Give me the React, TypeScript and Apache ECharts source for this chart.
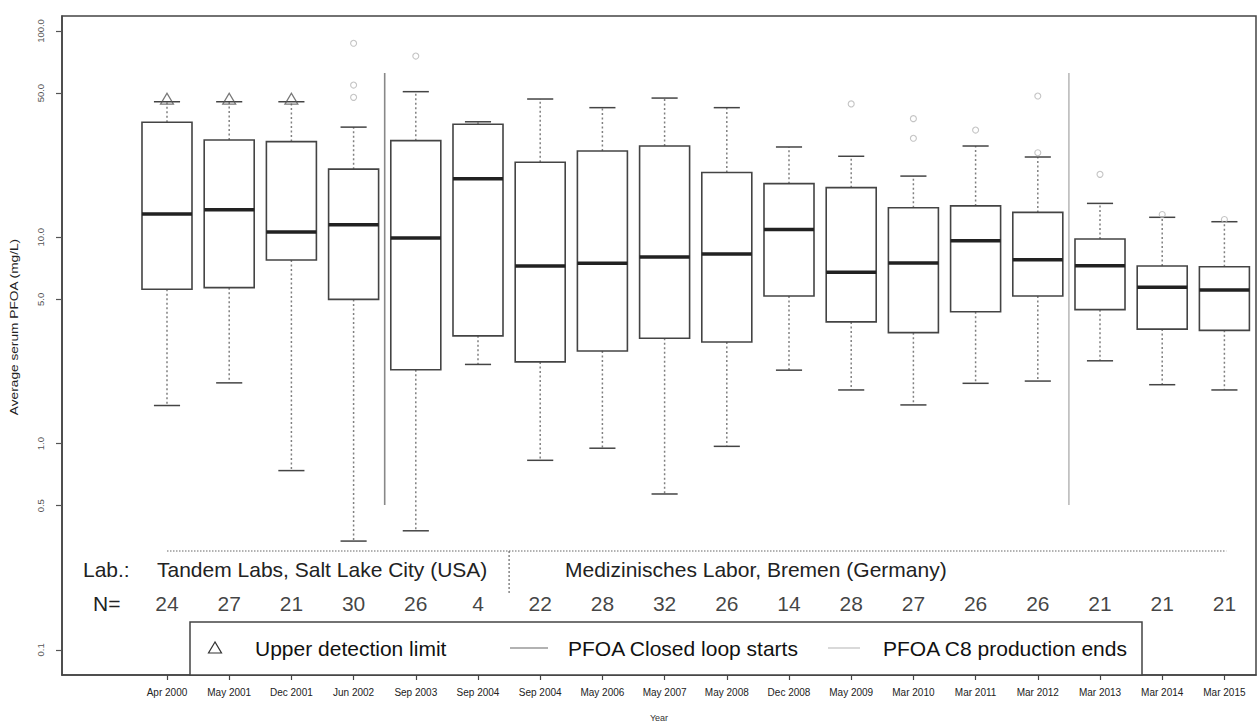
import React, { useEffect, useRef } from "react";
import * as echarts from "echarts";

const categories = ["Apr 2000", "May 2001", "Dec 2001", "Jun 2002", "Sep 2003", "Sep 2004", "Sep 2004", "May 2006", "May 2007", "May 2008", "Dec 2008", "May 2009", "Mar 2010", "Mar 2011", "Mar 2012", "Mar 2013", "Mar 2014", "Mar 2015"];
const nCounts = [24, 27, 21, 30, 26, 4, 22, 28, 32, 26, 14, 28, 27, 26, 26, 21, 21, 21];
const lowerWhisker = [1.53, 1.97, 0.74, 0.337, 0.378, 2.42, 0.83, 0.95, 0.57, 0.97, 2.27, 1.82, 1.54, 1.96, 2.01, 2.52, 1.93, 1.82];
const q1 = [5.6, 5.7, 7.76, 5.0, 2.28, 3.33, 2.49, 2.81, 3.24, 3.11, 5.19, 3.89, 3.45, 4.36, 5.19, 4.46, 3.59, 3.54];
const median = [12.97, 13.6, 10.6, 11.5, 9.92, 19.2, 7.26, 7.48, 8.03, 8.3, 10.9, 6.77, 7.51, 9.63, 7.79, 7.28, 5.72, 5.55];
const q3 = [36.1, 29.6, 29.1, 21.4, 29.4, 35.3, 23.1, 26.2, 27.7, 20.6, 18.2, 17.4, 13.9, 14.2, 13.2, 9.81, 7.26, 7.2];
const upperWhisker = [45.4, 45.4, 45.4, 34.2, 50.8, 36.3, 46.8, 42.5, 47.3, 42.5, 27.4, 24.7, 19.8, 27.7, 24.5, 14.6, 12.5, 11.9];
const outliers = [[3, 54.7], [3, 47.7], [3, 87.2], [4, 75.6], [11, 44.3], [12, 37.6], [12, 30.2], [13, 33.1], [14, 48.4], [14, 25.7], [15, 20.2], [16, 12.9], [17, 12.2]];
const detectionLimit = [[0, 47], [1, 47], [2, 47]];
const yTicks = [0.1, 0.5, 1, 5, 10, 50, 100];
const closedLoopLine = [[3.5, 0.504], [3.5, 62.6]];
const c8Line = [[14.5, 0.504], [14.5, 62.6]];
const labDivider = [[0, 0.3015], [17.03, 0.3015]];
const labSeparator = [[5.5, 0.3015], [5.5, 0.189]];
const nRowValue = 0.1688;
const labels = {
  lab: "Lab.:",
  n: "N=",
  usa: "Tandem Labs, Salt Lake City (USA)",
  de: "Medizinisches Labor, Bremen (Germany)",
  yName: "Average serum PFOA (mg/L)",
  xName: "Year",
  leg1: "Upper detection limit",
  leg2: "PFOA Closed loop starts",
  leg3: "PFOA C8 production ends",
};

const FONT = "'Liberation Sans', Arial, Helvetica, sans-serif";

export default function App() {
  const ref = useRef<HTMLDivElement>(null);
  useEffect(() => {
    if (!ref.current) return;
    const chart = echarts.init(ref.current, null, { renderer: "svg" });
    const boxData = categories.map((_, i) => [i, lowerWhisker[i], q1[i], median[i], q3[i], upperWhisker[i]]);
    const idx = categories.map((_, i) => i);

    const option: any = {
      animation: false,
      backgroundColor: "#fff",
      textStyle: { fontFamily: FONT },
      grid: { left: 62, top: 16, width: 1194, height: 659, show: true, borderColor: "#444", borderWidth: 1.5, containLabel: false, outerBoundsMode: "none" },
      xAxis: {
        type: "value",
        min: -1.688,
        max: 17.508,
        splitLine: { show: false },
        axisLine: { show: true, onZero: false, lineStyle: { color: "#444", width: 1.5 } },
        axisTick: { show: true, length: 5, customValues: idx, lineStyle: { color: "#444", width: 1.2 } },
        axisLabel: { customValues: idx, formatter: (v: number) => categories[Math.round(v)], fontSize: 10, color: "#222", margin: 12, fontFamily: FONT },
        name: labels.xName,
        nameLocation: "middle",
        nameGap: 38,
        nameTextStyle: { fontSize: 9, color: "#333", fontFamily: FONT },
      },
      yAxis: {
        type: "log",
        logBase: 10,
        min: 0.0756,
        max: 118.2,
        splitLine: { show: false },
        axisLine: { show: true, onZero: false, lineStyle: { color: "#444", width: 1.5 } },
        axisTick: { show: true, length: 6, customValues: yTicks, lineStyle: { color: "#555", width: 1.2 } },
        axisLabel: { customValues: yTicks, formatter: (v: number) => v.toFixed(1), rotate: 90, fontSize: 9.5, color: "#555", margin: 17, fontFamily: FONT },
      },
      graphic: [
        { type: "text", x: 15, y: 327, rotation: Math.PI / 2, scaleX: 1.37, style: { text: labels.yName, fontSize: 10, fontFamily: FONT, fill: "#222", textAlign: "center", textVerticalAlign: "middle", align: "center", verticalAlign: "middle" } },
        { type: "text", x: 83, y: 569, style: { text: labels.lab, fontSize: 21, fontFamily: FONT, fill: "#222", textAlign: "left", textVerticalAlign: "middle", align: "left", verticalAlign: "middle" } },
        { type: "text", x: 93, y: 603, style: { text: labels.n, fontSize: 21, fontFamily: FONT, fill: "#222", textAlign: "left", textVerticalAlign: "middle", align: "left", verticalAlign: "middle" } },
        { type: "text", x: 157, y: 569, style: { text: labels.usa, fontSize: 21, fontFamily: FONT, fill: "#222", textAlign: "left", textVerticalAlign: "middle", align: "left", verticalAlign: "middle" } },
        { type: "text", x: 565, y: 569, style: { text: labels.de, fontSize: 21, fontFamily: FONT, fill: "#222", textAlign: "left", textVerticalAlign: "middle", align: "left", verticalAlign: "middle" } },
        { type: "rect", z: 50, shape: { x: 190, y: 622, width: 952, height: 53 }, style: { fill: "#fff", stroke: "#444", lineWidth: 1.5 } },
        { type: "polygon", z: 51, shape: { points: [[215, 642], [208.5, 653], [221.5, 653]] }, style: { fill: "none", stroke: "#333", lineWidth: 1.2 } },
        { type: "text", z: 51, x: 255, y: 648, style: { text: labels.leg1, fontSize: 21, fontFamily: FONT, fill: "#111", textAlign: "left", textVerticalAlign: "middle", align: "left", verticalAlign: "middle" } },
        { type: "line", z: 51, shape: { x1: 510, y1: 648, x2: 548, y2: 648 }, style: { stroke: "#999", lineWidth: 1.5 } },
        { type: "text", z: 51, x: 568, y: 648, style: { text: labels.leg2, fontSize: 21, fontFamily: FONT, fill: "#111", textAlign: "left", textVerticalAlign: "middle", align: "left", verticalAlign: "middle" } },
        { type: "line", z: 51, shape: { x1: 828, y1: 648, x2: 860, y2: 648 }, style: { stroke: "#ccc", lineWidth: 1.5 } },
        { type: "text", z: 51, x: 883, y: 648, style: { text: labels.leg3, fontSize: 21, fontFamily: FONT, fill: "#111", textAlign: "left", textVerticalAlign: "middle", align: "left", verticalAlign: "middle" } },
      ],
      series: [
        {
          type: "custom",
          clip: false,
          dimensions: ["x", "lo", "q1", "med", "q3", "hi"],
          encode: { x: 0, y: [1, 2, 3, 4, 5] },
          data: boxData,
          renderItem: (_params: any, api: any) => {
            const i = api.value(0);
            const m = api.value(3);
            const cx = api.coord([i, m])[0];
            const left = api.coord([i - 0.402, m])[0];
            const right = api.coord([i + 0.402, m])[0];
            const capL = api.coord([i - 0.21, m])[0];
            const capR = api.coord([i + 0.21, m])[0];
            const yLo = api.coord([i, api.value(1)])[1];
            const yA = api.coord([i, api.value(2)])[1];
            const yM = api.coord([i, m])[1];
            const yB = api.coord([i, api.value(4)])[1];
            const yHi = api.coord([i, api.value(5)])[1];
            const dotted = { stroke: "#808080", lineWidth: 1.5, lineDash: [2, 2.5] };
            const solid = { stroke: "#444", lineWidth: 1.5 };
            return {
              type: "group",
              children: [
                { type: "line", shape: { x1: cx, y1: yB, x2: cx, y2: yHi }, style: dotted },
                { type: "line", shape: { x1: cx, y1: yA, x2: cx, y2: yLo }, style: dotted },
                { type: "line", shape: { x1: capL, y1: yHi, x2: capR, y2: yHi }, style: solid },
                { type: "line", shape: { x1: capL, y1: yLo, x2: capR, y2: yLo }, style: solid },
                { type: "rect", shape: { x: left, y: yB, width: right - left, height: yA - yB }, style: { fill: "#fff", stroke: "#444", lineWidth: 1.6 } },
                { type: "line", shape: { x1: left, y1: yM, x2: right, y2: yM }, style: { stroke: "#222", lineWidth: 3.5 } },
              ],
            };
          },
        },
        {
          type: "scatter",
          data: outliers,
          symbol: "circle",
          symbolSize: 6,
          itemStyle: { color: "rgba(0,0,0,0)", borderColor: "#b5b5b5", borderWidth: 1.1 },
          z: 5,
        },
        {
          type: "scatter",
          data: detectionLimit,
          symbol: "triangle",
          symbolSize: [13, 11],
          itemStyle: { color: "rgba(0,0,0,0)", borderColor: "#555", borderWidth: 1.2 },
          z: 6,
        },
        {
          type: "scatter",
          data: idx.map((i) => [i, nRowValue]),
          symbolSize: 1,
          itemStyle: { color: "rgba(0,0,0,0)" },
          label: { show: true, position: "inside", formatter: (p: any) => String(nCounts[p.dataIndex]), fontSize: 21, color: "#111", fontFamily: FONT },
          z: 6,
        },
        { type: "line", data: closedLoopLine, symbol: "none", lineStyle: { color: "#888", width: 1.6 }, z: 3 },
        { type: "line", data: c8Line, symbol: "none", lineStyle: { color: "#bbb", width: 1.6 }, z: 3 },
        { type: "line", data: labDivider, symbol: "none", lineStyle: { color: "#999", width: 1.4, type: [1.5, 1.5] }, z: 3 },
        { type: "line", data: labSeparator, symbol: "none", lineStyle: { color: "#666", width: 1.2, type: [2, 2] }, z: 3 },
      ],
    };
    chart.setOption(option);
    return () => chart.dispose();
  }, []);
  return <div ref={ref} style={{ position: "absolute", left: 0, top: 0, width: 1258, height: 722, background: "#fff" }} />;
}
